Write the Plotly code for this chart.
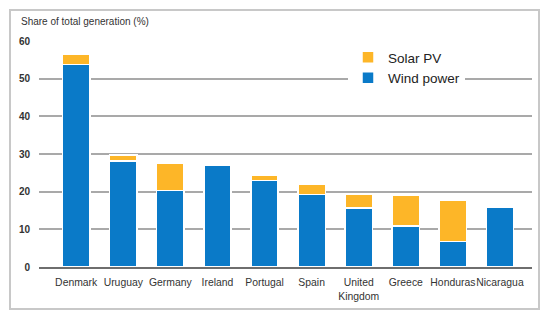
import plotly.graph_objects as go

countries = ["Denmark", "Uruguay", "Germany", "Ireland", "Portugal", "Spain",
             "United<br>Kingdom", "Greece", "Honduras", "Nicaragua"]
wind = [53.8, 28.1, 20.3, 27.0, 23.0, 19.3, 15.6, 10.9, 6.8, 15.8]
solar = [2.7, 1.6, 7.3, 0.0, 1.4, 2.8, 3.7, 8.2, 11.0, 0.0]
yticks = [0, 10, 20, 30, 40, 50, 60]

# page body has an 8px default margin; work in window pixels and offset
OFF = 8
W, H = 550 - OFF, 321 - OFF
PL, PR, PT, PB = 39, 532, 41, 267   # plot area in window pixels
L, T = PL - OFF, PT - OFF
R, B = W - (PR - OFF), H - (PB - OFF)
pw, ph = PR - PL, PB - PT

def px(x):
    return (x - PL) / pw

def py(y):
    return (PB - y) / ph

BLUE = "#0a7ac8"
ORANGE = "#fdb628"
FONT = "Liberation Sans, Arial, sans-serif"

fig = go.Figure()
fig.add_trace(go.Bar(x=countries, y=wind, name="Wind power", legendgroup="w",
                     marker=dict(color=BLUE, line=dict(color="white", width=1.5))))
fig.add_trace(go.Bar(x=countries, y=solar, name="Solar PV", legendgroup="s",
                     marker=dict(color=ORANGE, line=dict(color="white", width=1.5))))

fig.update_layout(
    width=W, height=H,
    margin=dict(l=L, r=R, t=T, b=B, pad=0, autoexpand=False),
    barmode="stack", bargap=0.42,
    plot_bgcolor="white", paper_bgcolor="white",
    font=dict(family=FONT, color="#333333", size=11),
    showlegend=True,
    legend=dict(x=px(348), y=py(42), xanchor="left", yanchor="top",
                bgcolor="white", font=dict(size=13.5, color="#222"),
                traceorder="reversed", tracegroupgap=9,
                itemwidth=30),
    xaxis=dict(range=[-0.79, 9.68], showgrid=False, showline=True,
               linecolor="#6e6e6e", linewidth=2, tickangle=0,
               ticks="outside", ticklen=5, tickcolor="rgba(0,0,0,0)",
               automargin=False,
               tickfont=dict(size=10.4, color="#333")),
    yaxis=dict(range=[0, 60], tickvals=yticks, ticktext=[f"<b>{v}</b>" for v in yticks],
               showgrid=True, gridcolor="#a9a9a9", gridwidth=2,
               zeroline=False, showline=False, automargin=False,
               ticks="outside", ticklen=6, tickcolor="rgba(0,0,0,0)",
               tickfont=dict(size=10, color="#333")),
    shapes=[dict(type="rect", xref="paper", yref="paper",
                 x0=px(10), x1=px(539), y0=py(309), y1=py(10),
                 line=dict(color="#c8c8c8", width=2), layer="below")],
    annotations=[dict(text="Share of total generation (%)", xref="paper", yref="paper",
                      x=px(19), y=py(21), xanchor="left", yanchor="middle",
                      showarrow=False, font=dict(size=10, color="#333"))],
)

fig.write_html("out.html")
